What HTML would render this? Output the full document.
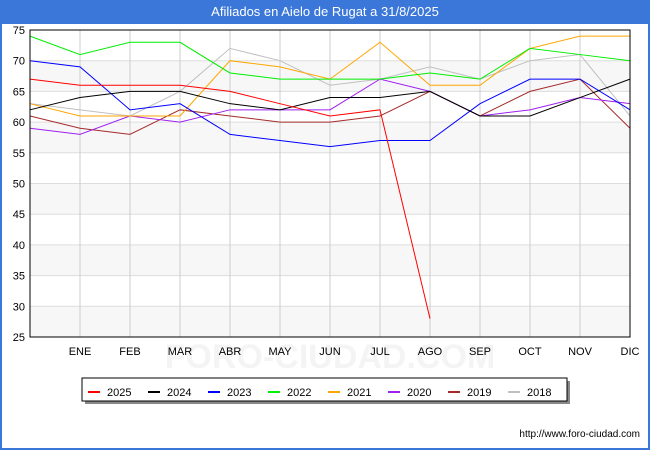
<!DOCTYPE html>
<html><head><meta charset="utf-8"><style>
body{margin:0;background:#fff;font-family:"Liberation Sans",sans-serif}
#wrap{position:relative;width:650px;height:450px;background:#fff;overflow:hidden}
#title{position:absolute;left:0;top:0;width:650px;height:24px;background:#3a77d9;color:#fff;font-size:13px;line-height:24px;text-align:center}
#edge{position:absolute;left:0;top:0;width:646px;height:446px;border:2px solid #3a77d9;pointer-events:none}
</style></head><body>
<div id="wrap">
<div id="title">Afiliados en Aielo de Rugat a 31/8/2025</div>
<svg id="svg" width="650" height="450" style="position:absolute;left:0;top:0"></svg>
<div id="edge"></div>
</div>
<script>
const months=["","ENE","FEB","MAR","ABR","MAY","JUN","JUL","AGO","SEP","OCT","NOV","DIC"];
const yTicks=[25,30,35,40,45,50,55,60,65,70,75];
const seriesNames=["2025","2024","2023","2022","2021","2020","2019","2018"];
const seriesColors=["#ff0000","#000000","#0000ff","#00ee00","#ffa500","#a020f0","#a52a2a","#c0c0c0"];
const s2025=[67,66,66,66,65,63,61,62,28];
const s2024=[62,64,65,65,63,62,64,64,65,61,61,64,67];
const s2023=[70,69,62,63,58,57,56,57,57,63,67,67,62];
const s2022=[74,71,73,73,68,67,67,67,68,67,72,71,70];
const s2021=[63,61,61,61,70,69,67,73,66,66,72,74,74];
const s2020=[59,58,61,60,62,62,62,67,65,61,62,64,63];
const s2019=[61,59,58,62,61,60,60,61,65,61,65,67,59];
const s2018=[63,62,61,65,72,70,66,67,69,67,70,71,61];
const allSeries=[s2025,s2024,s2023,s2022,s2021,s2020,s2019,s2018];

const L=30,R=630,T=30,B=337,ymin=25,ymax=75;
const xs=i=>L+i*(R-L)/(months.length-1);
const ys=v=>B-(v-ymin)/(ymax-ymin)*(B-T);
const svg=document.getElementById('svg');
const NS="http://www.w3.org/2000/svg";
function mk(tag,attrs,parent){const e=document.createElementNS(NS,tag);for(const k in attrs)e.setAttribute(k,attrs[k]);(parent||svg).appendChild(e);return e;}

for(let i=0;i<yTicks.length-1;i++){
  if(i%2===0){
    const b=mk('rect',{x:L,y:ys(yTicks[i+1]),width:R-L,height:ys(yTicks[i])-ys(yTicks[i+1]),fill:'#f7f7f7'});
    
    
  }
}
const wm=mk('text',{x:330,y:368,'text-anchor':'middle','font-size':34,fill:'#f4f4f4','font-weight':'bold'});
wm.textContent="FORO-CIUDAD.COM";


yTicks.forEach(v=>{
  const g=mk('line',{x1:L,x2:R,y1:ys(v),y2:ys(v),stroke:'#dddddd','stroke-width':1});
  
  
  const t=mk('text',{x:L-5,y:ys(v)+4,'text-anchor':'end','font-size':11,fill:'#000'});
  t.textContent=v;
  
  
});
months.forEach((m,i)=>{
  if(i===0)return;
  const g=mk('line',{x1:xs(i),x2:xs(i),y1:T,y2:B,stroke:'#cccccc','stroke-width':1});
  
  
  const t=mk('text',{x:xs(i),y:B+18,'text-anchor':'middle','font-size':11,fill:'#000'});
  t.textContent=m;
  
  
});
for(let s=allSeries.length-1;s>=0;s--){
  const pts=allSeries[s].map((v,i)=>xs(i)+','+ys(v)).join(' ');
  const p=mk('polyline',{points:pts,fill:'none',stroke:seriesColors[s],'stroke-width':1});
  
  
}
const fr=mk('rect',{x:L,y:T,width:R-L,height:B-T,fill:'none',stroke:'#000','stroke-width':1});



const lg=mk('g',{});


mk('rect',{x:85,y:381,width:485,height:23,fill:'#888'},lg);
mk('rect',{x:82,y:378,width:485,height:23,fill:'#fff',stroke:'#000','stroke-width':1},lg);
const lx=[88,148,208,268,328,388,448,508];
seriesNames.forEach((n,i)=>{
  const g=mk('g',{},lg);
  
  
  mk('line',{x1:lx[i],x2:lx[i]+12,y1:392,y2:392,stroke:seriesColors[i],'stroke-width':2},g);
  const t=mk('text',{x:lx[i]+19,y:396,'font-size':11,fill:'#000'},g);
  t.textContent=n;
});
const url=mk('text',{x:640,y:437,'text-anchor':'end','font-size':10,fill:'#000'});
url.textContent="http://www.foro-ciudad.com";


</script>
</body></html>
